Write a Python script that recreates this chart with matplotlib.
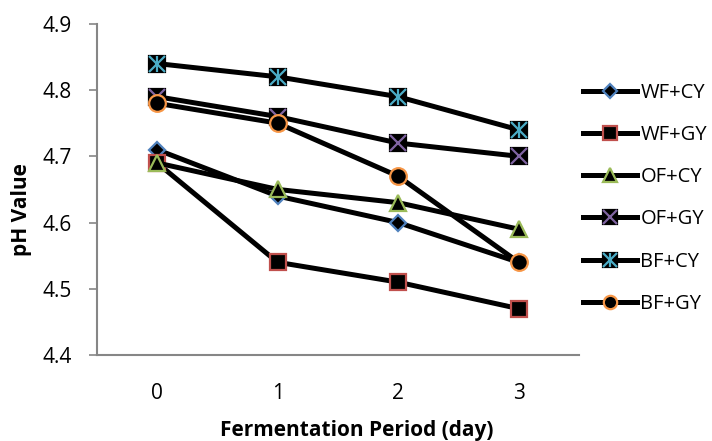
import matplotlib.pyplot as plt
from matplotlib.legend_handler import HandlerTuple

# data
days = [0, 1, 2, 3]
labels = ['WF+CY', 'WF+GY', 'OF+CY', 'OF+GY', 'BF+CY', 'BF+GY']
wf_cy = [4.71, 4.64, 4.60, 4.54]
wf_gy = [4.69, 4.54, 4.51, 4.47]
of_cy = [4.69, 4.65, 4.63, 4.59]
of_gy = [4.79, 4.76, 4.72, 4.70]
bf_cy = [4.84, 4.82, 4.79, 4.74]
bf_gy = [4.78, 4.75, 4.67, 4.54]

plt.rcParams['font.family'] = ['Open Sans', 'DejaVu Sans']

fig = plt.figure(figsize=(7.12, 4.41), dpi=100)
ax = fig.add_axes([0.136, 0.195, 0.677, 0.751])

lw = 3.6
mew = 1.6
handles = []

def series(y, marker, colour, label, ms=12, overlay=()):
    # black filled marker with coloured edge, like the Excel default
    main, = ax.plot(days, y, color='black', lw=lw, marker=marker, ms=ms,
                    mfc='black', mec=colour if not overlay else 'black', mew=mew,
                    label=label)
    parts = [main]
    for m in overlay:
        o, = ax.plot(days, y, ls='none', marker=m, ms=ms, mec=colour, mew=mew)
        parts.append(o)
    handles.append(tuple(parts))

series(wf_cy, 'D', '#4F81BD', labels[0], ms=8.5)
series(wf_gy, 's', '#C0504D', labels[1])
series(of_cy, '^', '#9BBB59', labels[2])
series(of_gy, 's', '#8064A2', labels[3], overlay=('x',))
series(bf_cy, 's', '#4BACC6', labels[4], overlay=('x', '|'))
series(bf_gy, 'o', '#F79646', labels[5])

ax.set_xlim(-0.5, 3.5)
ax.set_ylim(4.4, 4.9)
ax.set_xticks(days)
ax.set_yticks([4.4, 4.5, 4.6, 4.7, 4.8, 4.9])
ax.tick_params(axis='x', length=0, pad=20, labelsize=15)
ax.tick_params(axis='y', length=6, width=1.2, color='#868686', pad=12, labelsize=15)
for s in ['top', 'right']:
    ax.spines[s].set_visible(False)
for s in ['left', 'bottom']:
    ax.spines[s].set_color('#868686')
    ax.spines[s].set_linewidth(1.5)

ax.set_xlabel('Fermentation Period (day)', fontsize=15, fontweight='bold')
ax.set_ylabel('pH Value', fontsize=15, fontweight='bold')
ax.xaxis.set_label_coords(0.54, -0.196)
ax.yaxis.set_label_coords(-0.135, 0.438)

leg = fig.legend(handles, labels,
                 handler_map={tuple: HandlerTuple(ndivide=1)},
                 loc='upper left', bbox_to_anchor=(0.8076, 0.83), frameon=False,
                 borderaxespad=0, fontsize=14.5, handlelength=2.7, handletextpad=0.15,
                 labelspacing=1.1, numpoints=1, markerscale=0.8)

fig.savefig('out.png', dpi=100)
